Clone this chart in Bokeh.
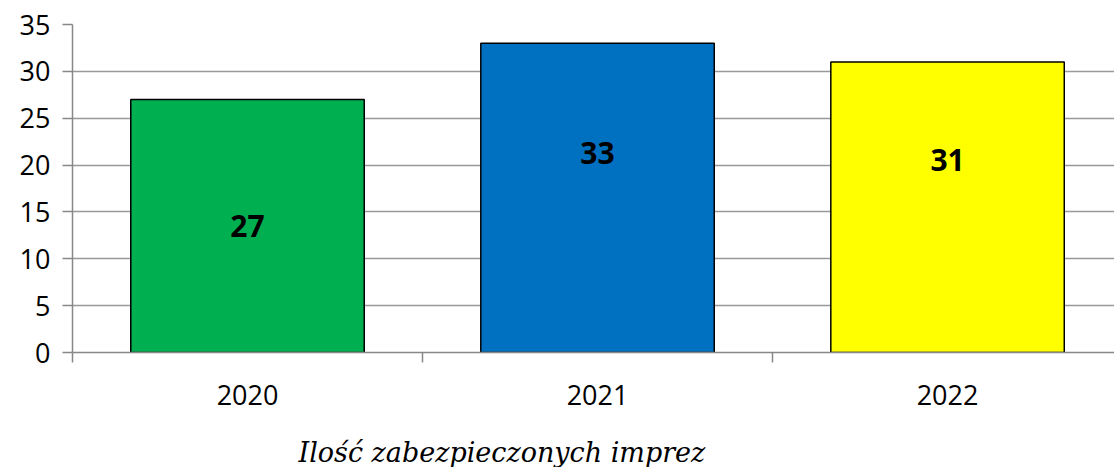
from bokeh.plotting import figure
from bokeh.layouts import column
from bokeh.models import Range1d, FixedTicker, Label, ColumnDataSource
from bokeh.core.properties import value
from bokeh.embed import file_html
from bokeh.resources import INLINE

years = ["2020", "2021", "2022"]
counts = [27, 33, 31]
colors = ["#00B050", "#0070C0", "#FFFF00"]
label_y = [13.5, 21.3, 20.5]
y_ticks = [0, 5, 10, 15, 20, 25, 30, 35]
caption = "Ilość zabezpieczonych imprez"

xs = [i + 0.5 for i in range(len(years))]

p = figure(width=1114, height=415, output_backend="svg", toolbar_location=None,
           x_range=Range1d(0, 2.977), y_range=Range1d(0, 35),
           min_border_left=72, min_border_top=24, min_border_bottom=63, min_border_right=0)
p.outline_line_color = None
p.background_fill_color = "white"

src = ColumnDataSource(dict(x=xs, top=counts, color=colors, ly=label_y,
                            txt=[str(c) for c in counts]))
p.vbar(x="x", top="top", bottom=0, width=0.667, fill_color="color",
       line_color="black", line_width=1.5, source=src)
p.text(x="x", y="ly", text="txt", source=src, text_align="center", text_baseline="middle",
       text_font=value("Open Sans"), text_font_style="bold", text_font_size="30px",
       text_color="black")

p.xgrid.visible = False
p.ygrid.grid_line_color = "#999999"
p.ygrid.grid_line_width = 1.5
p.ygrid.ticker = FixedTicker(ticks=y_ticks)

ya = p.yaxis[0]
ya.ticker = FixedTicker(ticks=y_ticks)
ya.axis_line_color = "#888888"
ya.axis_line_width = 1.5
ya.major_tick_line_color = "#888888"
ya.major_tick_line_width = 1.5
ya.major_tick_out = 10
ya.major_tick_in = 0
ya.minor_tick_line_color = None
ya.major_label_standoff = 12
ya.major_label_text_font = "Open Sans"
ya.major_label_text_font_size = "27px"
ya.major_label_text_color = "black"

xa = p.xaxis[0]
xa.ticker = FixedTicker(ticks=xs, minor_ticks=[0, 1, 2, 3])
xa.major_label_overrides = {x: y for x, y in zip(xs, years)}
xa.axis_line_color = "#888888"
xa.axis_line_width = 1.5
xa.major_tick_line_color = None
xa.minor_tick_line_color = "#888888"
xa.minor_tick_line_width = 1.5
xa.minor_tick_out = 10
xa.minor_tick_in = 0
xa.major_label_standoff = 22
xa.major_label_text_font = "Open Sans"
xa.major_label_text_font_size = "27px"
xa.major_label_text_color = "black"

cap = figure(width=1114, height=52, output_backend="svg", toolbar_location=None,
             x_axis_location=None, y_axis_location=None,
             min_border_left=0, min_border_right=0, min_border_top=0, min_border_bottom=0)
cap.outline_line_color = None
cap.xgrid.visible = False
cap.ygrid.visible = False
cap.add_layout(Label(x=226, y=15, x_units="screen", y_units="screen", text=caption,
                     text_font="DejaVu Serif", text_font_style="italic",
                     text_font_size="27px", text_baseline="middle", text_color="black"))

open("out.html", "w").write(file_html(column(p, cap, spacing=0), INLINE))
